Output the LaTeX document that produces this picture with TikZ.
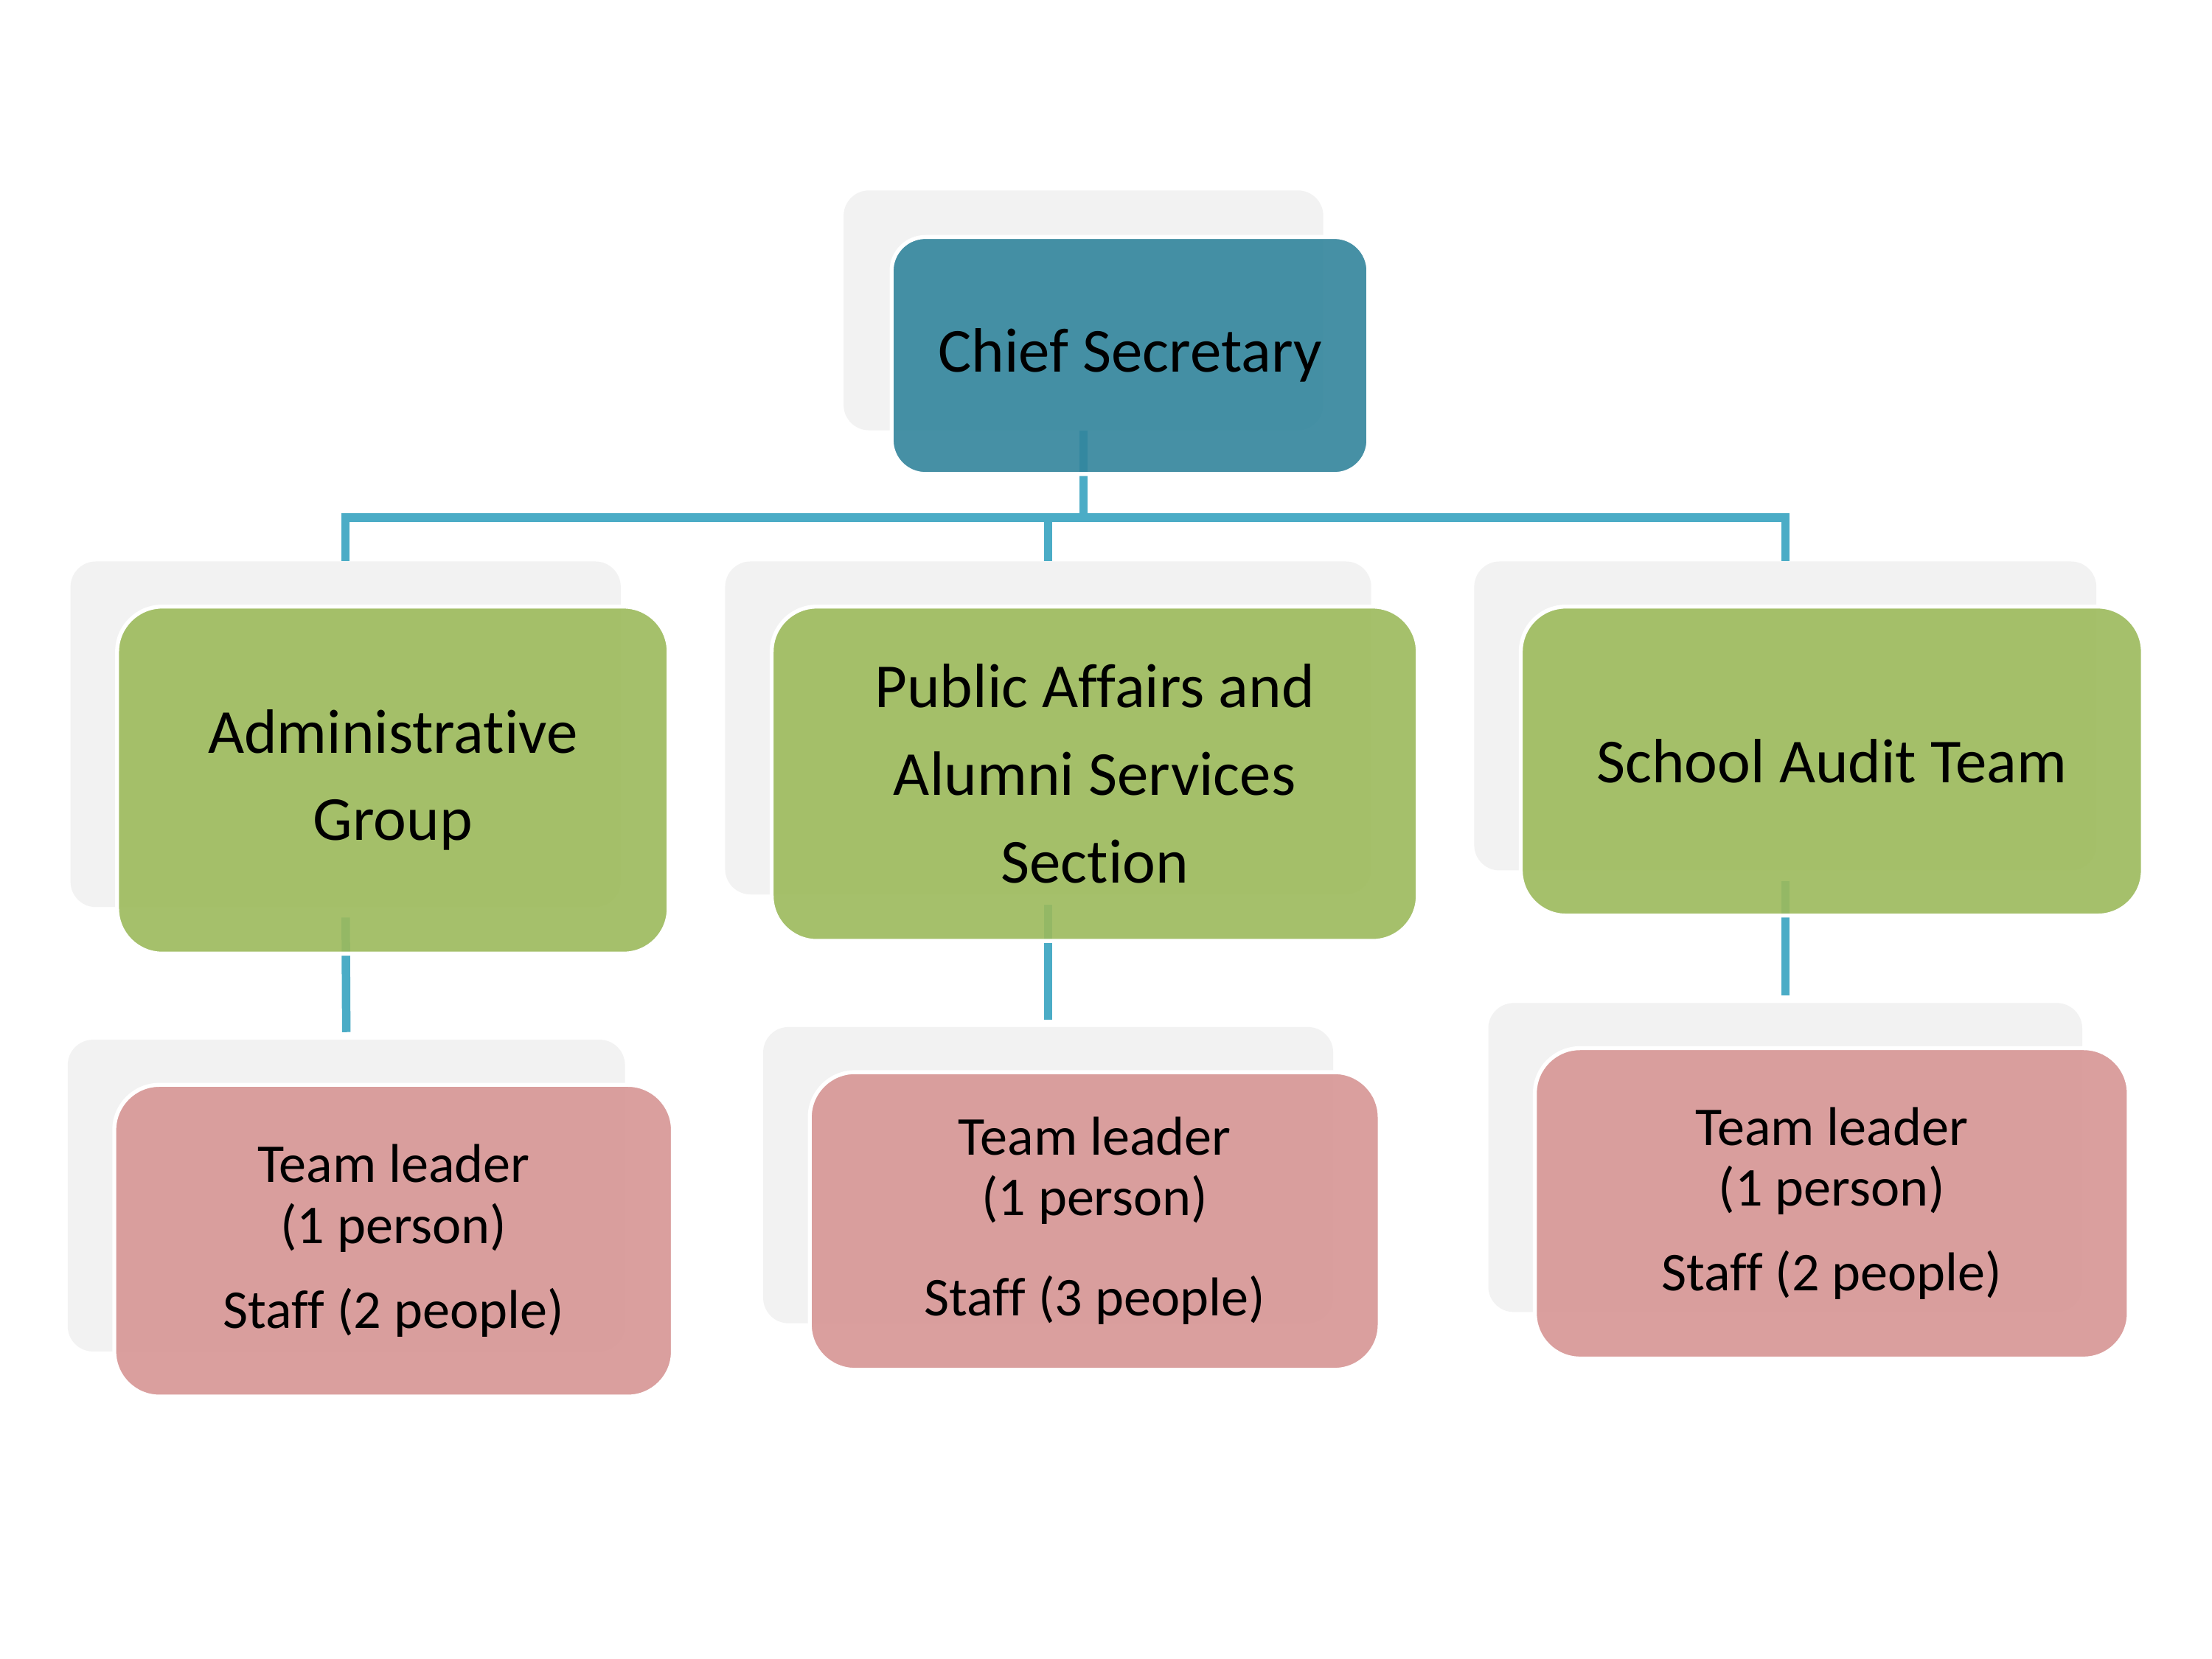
\documentclass[tikz,border=0pt]{standalone}
\usepackage{fontspec}
\setmainfont[Ligatures=NoCommon]{Carlito}
\definecolor{shgrey}{HTML}{F2F2F2}
\definecolor{conncol}{HTML}{4BACC6}
\definecolor{tealc}{HTML}{32859C}
\definecolor{greenc}{HTML}{9CBA5B}
\definecolor{pinkc}{HTML}{D79594}
\tikzset{
  shbox/.style={fill=shgrey, draw=none, rounded corners=9pt, inner sep=0pt},
  mainbox/.style={draw=white, line width=1.4pt, fill opacity=0.9, text opacity=1, rounded corners=16pt, inner sep=0pt, align=center, text=black},
  conn/.style={draw=conncol, line width=3pt},
  bigtext/.style={font=\fontsize{22.2}{31}\selectfont},
  smalltext/.style={font=\fontsize{19.4}{21.5}\selectfont},
}
\begin{document}
\begin{tikzpicture}[x=0.5pt,y=-0.5pt]
\useasboundingbox[fill=white] (0,0) rectangle (1568,1176);
% shadows
\node[shbox, minimum width=170pt, minimum height=85pt] (chiefS) at (768,220) {};
\node[shbox, minimum width=195pt, minimum height=122.5pt] (admS) at (245,520.5) {};
\node[shbox, minimum width=229pt, minimum height=118pt] (pubS) at (743,516) {};
\node[shbox, minimum width=220.5pt, minimum height=109.5pt] (audS) at (1265.5,507.5) {};
\node[shbox, minimum width=197.5pt, minimum height=110.5pt] (admTS) at (245.5,847.5) {};
\node[shbox, minimum width=202pt, minimum height=105pt] (pubTS) at (743,833) {};
\node[shbox, minimum width=210.5pt, minimum height=109.5pt] (audTS) at (1265.5,820.5) {};
% connectors
\draw[conn] (chiefS.south) -- (chiefS.south |- 0,367) coordinate (j);
\draw[conn] (admS.north) |- (j) -| (audS.north);
\draw[conn] (pubS.north) -- (pubS.north |- j);
\draw[conn, shorten <=3.5pt, shorten >=2.5pt] (admS.south) -- (admTS.north);
\draw[conn, shorten <=3.5pt, shorten >=2.5pt] (pubS.south) -- (pubTS.north);
\draw[conn, shorten <=3.5pt, shorten >=2.5pt] (audS.south) -- (audTS.north);
% main boxes
\node[mainbox, bigtext, fill=tealc, rounded corners=12pt, minimum width=169pt, minimum height=84pt] (chief) at (801,252) {Chief Secretary};
\node[mainbox, bigtext, fill=greenc, minimum width=195.5pt, minimum height=123pt] (adm) at (278.5,553) {Administrative\\Group};
\node[mainbox, bigtext, fill=greenc, minimum width=229pt, minimum height=118.5pt] (pub) at (776,548.5) {Public Affairs and\\Alumni Services\\Section};
\node[mainbox, bigtext, fill=greenc, minimum width=220.5pt, minimum height=109.5pt] (aud) at (1298.5,539.5) {School Audit Team};
\node[mainbox, smalltext, fill=pinkc, minimum width=198pt, minimum height=110.5pt] (admT) at (279,879.5) {Team leader\\(1 person)\\[8.5pt]Staff (2 people)};
\node[mainbox, smalltext, fill=pinkc, minimum width=202pt, minimum height=105.5pt] (pubT) at (776,865.5) {Team leader\\(1 person)\\[14pt]Staff (3 people)};
\node[mainbox, smalltext, fill=pinkc, minimum width=210.5pt, minimum height=110pt] (audT) at (1298.5,853) {Team leader\\(1 person)\\[8.5pt]Staff (2 people)};
\end{tikzpicture}
\end{document}
